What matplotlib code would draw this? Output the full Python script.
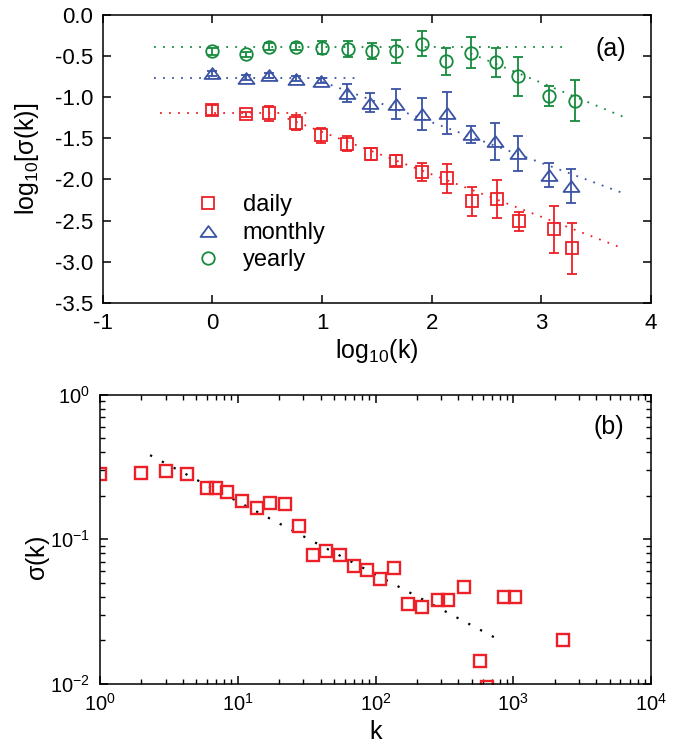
import matplotlib
matplotlib.use("Agg")
import matplotlib.pyplot as plt
import numpy as np
from matplotlib.path import Path
from matplotlib.ticker import FormatStrFormatter, FixedLocator, LogLocator, NullFormatter

plt.rcParams['font.family'] = ['Liberation Sans', 'DejaVu Sans']
plt.rcParams['mathtext.fontset'] = 'custom'
plt.rcParams['mathtext.rm'] = 'Liberation Sans'
plt.rcParams['mathtext.it'] = 'Liberation Sans:italic'
plt.rcParams['mathtext.bf'] = 'Liberation Sans:bold'
plt.rcParams['mathtext.sf'] = 'Liberation Sans'
plt.rcParams['mathtext.default'] = 'regular'
plt.rcParams['axes.unicode_minus'] = False

# ---------------- data: panel (a) ----------------
daily_x = [0.0, 0.306, 0.516, 0.759, 0.995, 1.231, 1.45, 1.675, 1.91, 2.14, 2.366, 2.594, 2.794, 3.113, 3.277]
daily_y = [-1.16, -1.207, -1.195, -1.31, -1.462, -1.567, -1.686, -1.77, -1.908, -1.988, -2.262, -2.233, -2.508, -2.607, -2.837]
daily_err = [0.06, 0.03, 0.093, 0.091, 0.09, 0.089, 0.072, 0.07, 0.11, 0.178, 0.176, 0.23, 0.118, 0.283, 0.313]

monthly_x = [0.0, 0.306, 0.516, 0.759, 0.995, 1.231, 1.438, 1.675, 1.915, 2.137, 2.357, 2.576, 2.787, 3.07, 3.265]
monthly_y = [-0.711, -0.766, -0.737, -0.777, -0.8, -0.95, -1.066, -1.083, -1.203, -1.199, -1.453, -1.535, -1.683, -1.943, -2.075]
monthly_err = [0.03, 0.03, 0.03, 0.03, 0.03, 0.115, 0.11, 0.18, 0.195, 0.255, 0.105, 0.225, 0.216, 0.143, 0.205]

yearly_x = [0.0, 0.303, 0.516, 0.762, 1.0, 1.233, 1.457, 1.67, 1.907, 2.13, 2.36, 2.59, 2.79, 3.065, 3.31]
yearly_y = [-0.445, -0.481, -0.388, -0.388, -0.399, -0.413, -0.445, -0.445, -0.354, -0.567, -0.462, -0.579, -0.749, -0.988, -1.045]
yearly_err = [0.04, 0.03, 0.04, 0.04, 0.075, 0.097, 0.097, 0.142, 0.152, 0.16, 0.19, 0.18, 0.24, 0.117, 0.247]

# dotted fit lines: (x_start, x_end), (y_start, y_end)
fit_daily_flat = ([-0.478, 0.859], [-1.197, -1.197])
fit_daily_slope = ([0.686, 3.745], [-1.26, -2.838])
fit_monthly_flat = ([-0.53, 1.339], [-0.773, -0.773])
fit_monthly_slope = ([1.003, 3.765], [-0.814, -2.176])
fit_yearly_flat = ([-0.527, 3.2], [-0.396, -0.396])
fit_yearly_slope = ([2.355, 3.746], [-0.47, -1.239])

xticks_a = [-1, 0, 1, 2, 3, 4]
yticks_a = [0.0, -0.5, -1.0, -1.5, -2.0, -2.5, -3.0, -3.5]
labels_a = ['daily', 'monthly', 'yearly']

# ---------------- data: panel (b) ----------------
k_b = [1.0, 1.97, 2.99, 4.3, 6.0, 7.0, 8.35, 10.8, 13.8, 17.2, 22.2, 27.8, 35.1, 44.0, 55.6, 69.7, 86.7,
       107, 136, 173, 217, 283, 337, 441, 569, 649, 857, 1021, 2309]
sigma_b = [0.282, 0.288, 0.299, 0.285, 0.225, 0.228, 0.213, 0.184, 0.164, 0.178, 0.175, 0.124, 0.0776,
           0.0831, 0.078, 0.0648, 0.0608, 0.0532, 0.0631, 0.0358, 0.0341, 0.0382, 0.0376, 0.0467,
           0.01426, 0.0094, 0.0398, 0.0396, 0.020]
fit_b = ([2.31, 802], [0.382, 0.0199])

RED = '#ED2028'
BLUE = '#3A53A4'
GREEN = '#168A3E'

tri = Path([(-1, -0.68), (1, -0.68), (0, 0.68), (-1, -0.68)], closed=True)

fig = plt.figure(figsize=(6.84, 7.44), dpi=100)
ax1 = fig.add_axes([0.150, 0.5927, 0.802, 0.3875])
ax2 = fig.add_axes([0.1462, 0.0813, 0.8056, 0.388])

dot = (0, (1, 4))
for (fx, fy), c in [(fit_daily_flat, RED), (fit_daily_slope, RED),
                    (fit_monthly_flat, BLUE), (fit_monthly_slope, BLUE),
                    (fit_yearly_flat, GREEN), (fit_yearly_slope, GREEN)]:
    ax1.plot(fx, fy, linestyle=dot, color=c, lw=1.3)

ekw = dict(elinewidth=1.3, capsize=3.5, capthick=1.3, mfc='none', mew=1.3, linestyle='none')
ax1.errorbar(daily_x, daily_y, yerr=daily_err, marker='s', ms=8.3, color=RED, mec=RED, label=labels_a[0], **ekw)
ax1.errorbar(monthly_x, monthly_y, yerr=monthly_err, marker=tri, ms=11.5, color=BLUE, mec=BLUE, label=labels_a[1], **ekw)
ax1.errorbar(yearly_x, yearly_y, yerr=yearly_err, marker='o', ms=9.0, color=GREEN, mec=GREEN, label=labels_a[2], **ekw)

ax1.set_xlim(-1, 4)
ax1.set_ylim(-3.5, 0.0)
ax1.xaxis.set_major_locator(FixedLocator(xticks_a))
ax1.yaxis.set_major_locator(FixedLocator(yticks_a))
ax1.yaxis.set_major_formatter(FormatStrFormatter('%.1f'))
ax1.xaxis.set_major_formatter(FormatStrFormatter('%d'))
ax1.tick_params(direction='in', length=5.5, width=1.1, top=True, right=True, labelsize=16, pad=7)
for s in ax1.spines.values():
    s.set_linewidth(1.1)
ax1.set_xlabel(r'$\mathregular{log_{10}(k)}$', fontsize=18)
ax1.set_ylabel(r'$\mathregular{log_{10}[\sigma(k)]}$', fontsize=18)
ax1.xaxis.set_label_coords(0.5, -0.117)
ax1.yaxis.set_label_coords(-0.112, 0.5)
ax1.text(3.63, -0.41, '(a)', fontsize=18, ha='center', va='center')

handles, labs = ax1.get_legend_handles_labels()
handles = [h[0] for h in handles]
leg = ax1.legend(handles, labs, loc='upper left', bbox_to_anchor=(0.171, 0.377), frameon=False,
                 fontsize=17, handlelength=1.0, handletextpad=0.97, labelspacing=0.23,
                 borderpad=0, borderaxespad=0, numpoints=1)

# ---------------- panel (b) ----------------
ax2.plot(fit_b[0], fit_b[1], linestyle=(0, (1, 5)), color='black', lw=1.6)
ax2.plot(k_b, sigma_b, linestyle='none', marker='s', ms=8.5, mfc='none', mec=RED, mew=1.7)
ax2.set_xscale('log')
ax2.set_yscale('log')
ax2.set_xlim(1, 1e4)
ax2.set_ylim(1e-2, 1)
ax2.xaxis.set_major_locator(LogLocator(base=10, numticks=10))
ax2.yaxis.set_major_locator(LogLocator(base=10, numticks=10))
ax2.xaxis.set_minor_locator(LogLocator(base=10, subs=np.arange(2, 10), numticks=20))
ax2.yaxis.set_minor_locator(LogLocator(base=10, subs=np.arange(2, 10), numticks=20))
ax2.xaxis.set_minor_formatter(NullFormatter())
ax2.yaxis.set_minor_formatter(NullFormatter())
ax2.tick_params(which='major', direction='in', length=6, width=1.1, top=True, right=True, labelsize=14.5, pad=7)
ax2.tick_params(which='minor', direction='in', length=3.5, width=1.0, top=True, right=True)
for s in ax2.spines.values():
    s.set_linewidth(1.1)
ax2.set_xlabel('k', fontsize=18)
ax2.set_ylabel(r'$\mathregular{\sigma(k)}$', fontsize=18)
ax2.xaxis.set_label_coords(0.5, -0.125)
ax2.yaxis.set_label_coords(-0.088, 0.432)
ax2.text(4900, 0.598, '(b)', fontsize=18, ha='center', va='center')

fig.savefig('out.png', dpi=100)
